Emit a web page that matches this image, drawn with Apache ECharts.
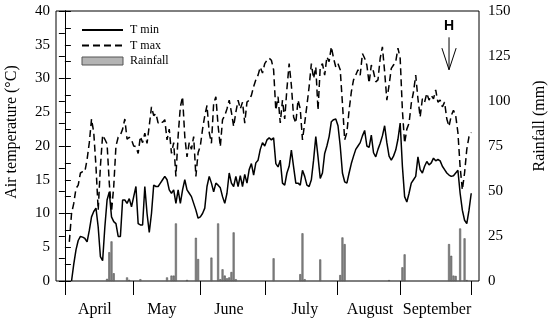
<!DOCTYPE html>
<html><head><meta charset="utf-8">
<script src="https://cdn.jsdelivr.net/npm/echarts@6/dist/echarts.min.js"></script>
<style>html,body{margin:0;padding:0;background:#fff}#c{width:550px;height:321px}</style>
</head><body><div id="c"></div>
<script>
// Day index: 0 = 1 April
const monthLabels = ['April','May','June','July','August','September'];
const monthTickDays = [0, 30.6, 60.8, 90.1, 122.5, 150.9, 183];
const monthLabelDays = [13.5, 43.7, 73.9, 108.1, 137.4, 167.6];

const tMaxStart = 2;
const tMax = [5.8,10,11.5,13.7,14.2,16,16.2,16.2,18,20.5,24,22,17,10.5,17,21.6,21,20.3,14.5,10.3,14,20,21.3,21.6,22.5,24,21,21.3,
 20.9,20,19.9,18.9,21.4,20.5,21.9,20.4,23,25.8,24.5,24.8,23.4,23.7,23.5,23.9,20.9,22.5,18.9,20.5,15.5,21.5,25.8,27.3,21.4,18.4,20.5,19.5,21.4,15.5,19,
 20,22.5,24.5,26,22,20.4,26.3,27.3,23,19.9,23.9,24.5,25.5,26.8,25,22.9,25,26.8,25.5,26.5,23.4,26.5,26.8,27.5,28.8,29.8,30.5,31.7,30.8,32.2,
 32.7,33,32.7,31.3,25.3,27.3,23.4,26.8,24,28.5,32.2,29,24.3,23.4,26.8,25.5,20.9,23.4,26,28.8,32.2,30,31.7,25.3,31.7,32.2,30.5,33.2,32.5,34.7,33,
 31.7,32.2,31.3,26.3,20.9,22,25.3,28,29.8,30.5,31.3,30.5,33.7,33,32,29.3,32,31,29.5,29.8,33,34.7,31,26.8,29,31.5,32,32.5,34.5,33,25.3,
 20.4,22.5,23.4,26.3,28,30.5,27,24.3,27,26.5,27.8,26.8,27.5,27,28.3,26.5,26.8,25.8,26.5,24,22.9,24.5,25.3,24.5,22,16.9,13.5,16,19.5,21.4,22];

const tMinStart = 3;
const tMin = [0,2.5,4.6,6,6.6,6.5,6.3,5.8,7.5,9.5,10.3,10.8,8,3.6,3,8,12,13.2,9.5,8.8,8.5,6.6,6.6,12,12,11.5,12.2,
 11,12.5,14,8.5,8.3,8.3,14,10,7.2,10,14.2,14,14,14.5,15,15.5,15,13.5,13,13.5,11.5,13.5,11.5,13.5,15,13.5,13,12.5,11.5,10.5,9.3,
 9.5,10,10.8,14,15.5,14.5,13.2,14.5,14.2,13.8,12.5,11.5,13,16,14.5,14,15.5,14,15.6,14,15.8,14.5,16.5,17.4,15.7,17.5,17.9,19.5,20.5,20,
 20.9,21.2,20.9,21.2,17.4,16.9,17.9,14.5,14.2,16,17,19.4,16.9,14.5,14.5,14.2,16.4,15.5,14.2,14,15,17.9,21.4,18.4,15.2,16,18.9,20,21.4,23.6,23.9,
 24,23,20,16,14.7,14.5,16,17.4,18.5,19.5,20,20.5,21.5,22.3,20,19.8,21.6,19,18.4,19.5,20.4,21.5,23,20.5,18.5,17.9,18.5,19.4,21,23.4,17,
 12.5,11.7,13,14.5,15,15.5,18.4,16.5,16,17,17.7,17.2,17.5,18.2,17.8,18,17.8,17,16.5,16,15.7,15.5,15.6,16,16.4,13,10.5,9,8.5,10.5,13];

const rainDays = [19,20,21,22,28,29,34,46,48,49,50,55,59,60,66,69,70,71,72,73,74,75,76,77,94,106,107,108,115,124,125,126,146,152,153,173,174,175,176,178,180,181];
const rainMm   = [1.2,16,22,4.3,2,0.6,1,2,3,3,32,0.6,24,12.2,13,32,1,6.5,3,1.5,2,5,27,1,12.6,3.8,26.5,1,12,3.3,24.2,20.5,0.5,7.6,14.8,20.5,14,3,2.8,29.2,23.7,0.5];

const harvestDay = 173;

const serif = "'Liberation Serif','Times New Roman',serif";
const tMaxData = tMax.map((v,i)=>[tMaxStart+i, v]);
const tMinData = tMin.map((v,i)=>[tMinStart+i, v]);
const rainData = rainDays.map((d,i)=>[d, rainMm[i]]);

const chart = echarts.init(document.getElementById('c'), null, {renderer:'canvas'});
const yAxisBase = {
  type:'value',
  axisLine:{show:true,lineStyle:{color:'#000',width:1}},
  axisTick:{show:true,inside:true,length:6,lineStyle:{color:'#000',width:1}},
  minorTick:{show:true,splitNumber:2,length:6,lineStyle:{color:'#000',width:1}},
  splitLine:{show:false},
  axisLabel:{fontFamily:serif,fontSize:15,color:'#000'}
};
const noSymbol = {color:'rgba(0,0,0,0)',borderColor:'rgba(0,0,0,0)',borderWidth:0};
const option = {
  animation:false,
  backgroundColor:'#fff',
  grid:{left:56,right:71,top:11,bottom:40,show:true,borderColor:'#000',borderWidth:1,backgroundColor:'transparent'},
  legend:{
    orient:'vertical',left:76,top:19,itemWidth:41,itemHeight:8,itemGap:3.5,
    textStyle:{fontFamily:serif,fontSize:12,color:'#000',lineHeight:12,padding:[0,0,0,2]},
    data:[{name:'T min',itemStyle:noSymbol},{name:'T max',itemStyle:noSymbol},
          {name:'Rainfall',icon:'rect',itemStyle:{color:'#b4b4b4',borderColor:'#555',borderWidth:1}}]
  },
  xAxis:[
    {type:'value',min:-4,max:186.5,show:false},
    {type:'value',min:-4,max:186.5,position:'bottom',offset:2,
     axisLine:{show:false},splitLine:{show:false},
     axisTick:{show:true,customValues:monthTickDays,length:14,lineStyle:{color:'#000',width:1}},
     axisLabel:{customValues:monthLabelDays,margin:19,fontFamily:serif,fontSize:16,color:'#000',
       formatter:(v)=>{let b=0,bd=1e9;monthLabelDays.forEach((m,i)=>{const dd=Math.abs(m-v);if(dd<bd){bd=dd;b=i;}});return monthLabels[b];}}}
  ],
  yAxis:[
    Object.assign({},yAxisBase,{min:0,max:40,interval:5,position:'left',axisLabel:Object.assign({},yAxisBase.axisLabel,{margin:6})}),
    Object.assign({},yAxisBase,{min:0,max:150,interval:25,position:'right',axisLabel:Object.assign({},yAxisBase.axisLabel,{margin:9})})
  ],
  series:[
    {name:'Rainfall',type:'bar',xAxisIndex:0,yAxisIndex:1,data:rainData,barWidth:2,
     itemStyle:{color:'#8a8a8a',borderColor:'#444',borderWidth:0.5}},
    {name:'T min',type:'line',xAxisIndex:0,yAxisIndex:0,data:tMinData,symbol:'none',
     lineStyle:{color:'#000',width:1.5},itemStyle:{color:'#000'}},
    {name:'T max',type:'line',xAxisIndex:0,yAxisIndex:0,data:tMaxData,symbol:'none',
     lineStyle:{color:'#000',width:1.5,type:[7,4]},itemStyle:{color:'#000'}}
  ]
};
chart.setOption(option);

// Axis titles and harvest marker
const conv = (d,t)=>chart.convertToPixel({xAxisIndex:0,yAxisIndex:0},[d,t]);
const arrowTop = conv(harvestDay, 36.1);
const arrowTip = conv(harvestDay, 31.3);
const wingL = conv(harvestDay-3.2, 34.5);
const wingR = conv(harvestDay+3.2, 34.5);
const hPos = conv(harvestDay, 37.7);
chart.setOption({
  graphic:[
    {type:'text',x:12,y:132,rotation:Math.PI/2,style:{text:'Air temperature (°C)',fontFamily:serif,fontSize:16,fill:'#000',align:'center',verticalAlign:'middle'}},
    {type:'text',x:540,y:126,rotation:Math.PI/2,style:{text:'Rainfall (mm)',fontFamily:serif,fontSize:16,fill:'#000',align:'center',verticalAlign:'middle'}},
    {type:'text',x:hPos[0],y:hPos[1],style:{text:'H',fontFamily:"'Liberation Sans',Arial,sans-serif",fontWeight:'bold',fontSize:14,fill:'#000',align:'center',verticalAlign:'middle'}},
    {type:'polyline',shape:{points:[arrowTop,arrowTip]},style:{stroke:'#000',lineWidth:1,fill:null}},
    {type:'polyline',shape:{points:[wingL,arrowTip,wingR]},style:{stroke:'#000',lineWidth:1,fill:null}}
  ]
});
</script></body></html>
